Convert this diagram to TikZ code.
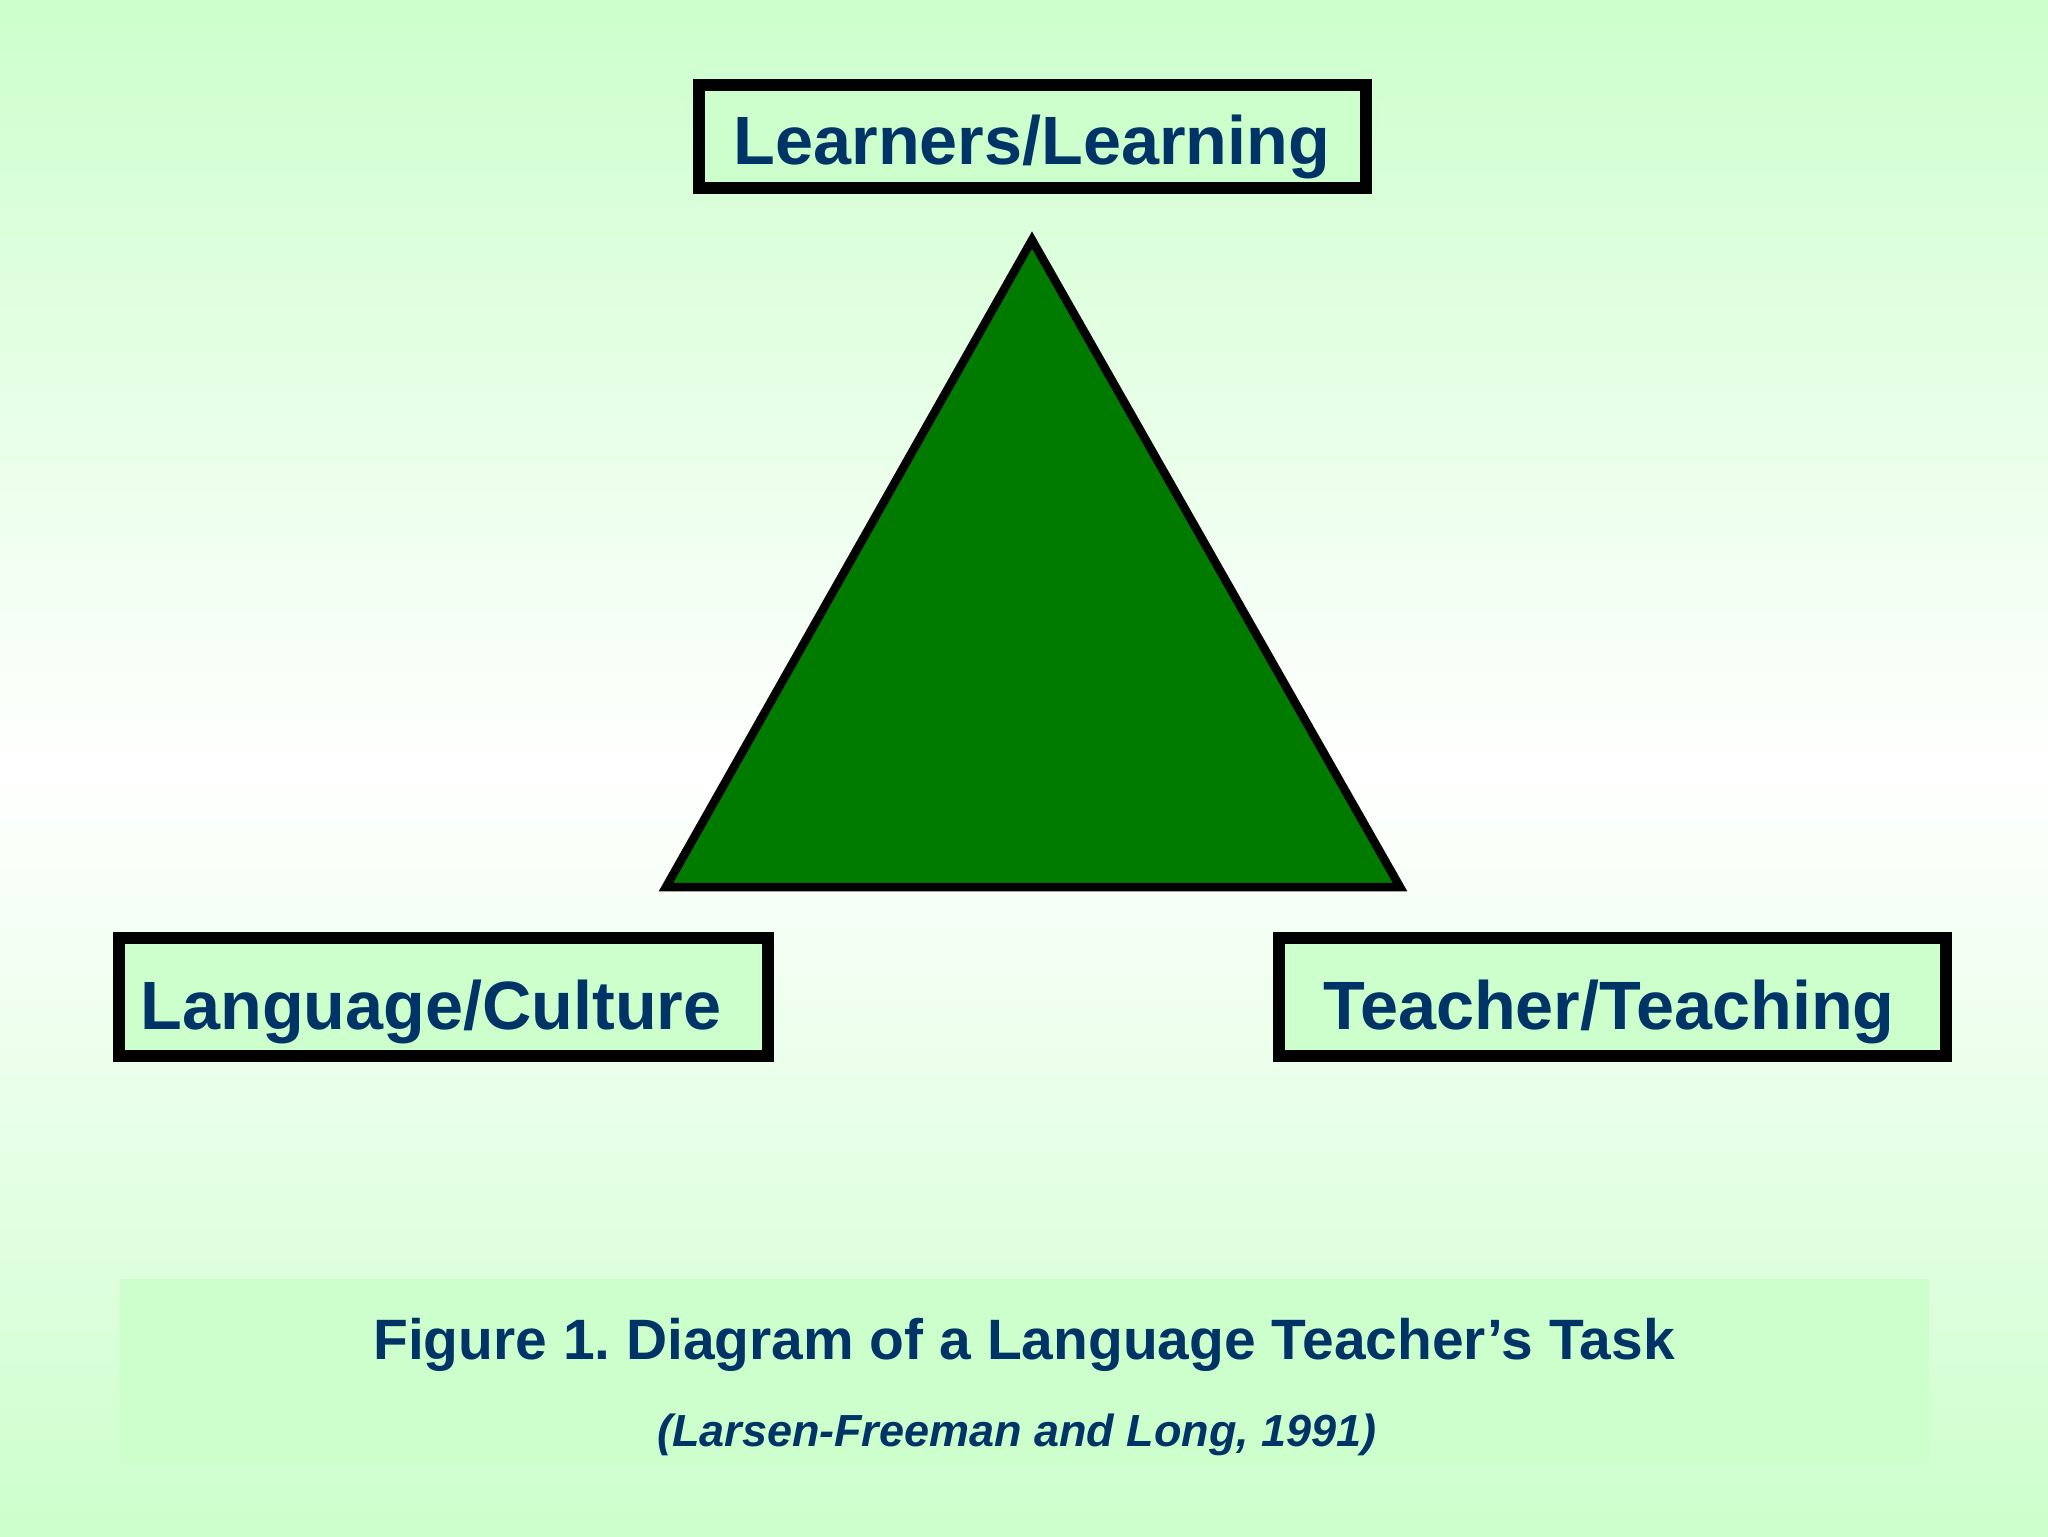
\documentclass[tikz,border=0pt]{standalone}
\usepackage{fontspec}
\setmainfont{Liberation Sans}
\frenchspacing
\definecolor{bgg}{RGB}{204,255,204}
\definecolor{boxfill}{RGB}{204,255,204}
\definecolor{navy}{RGB}{0,51,102}
\definecolor{trigreen}{RGB}{0,123,0}
\tikzset{
  labelbox/.style={draw=black, fill=boxfill, line width=1.2mm, inner sep=0pt, rectangle},
  boxtext/.style={text=navy, font=\fontsize{19.45}{23}\selectfont\bfseries, inner sep=0pt, anchor=base},
  captext/.style={text=navy, font=\fontsize{16.2}{19}\selectfont\bfseries, inner sep=0pt, anchor=base},
  subtext/.style={text=navy, font=\fontsize{12.8}{15}\selectfont\bfseries\itshape, inner sep=0pt, anchor=base},
  tri/.style={draw=black, fill=trigreen, line width=0.85mm, line join=miter}
}
\begin{document}
\begin{tikzpicture}[x=0.1mm,y=-0.1mm]
\useasboundingbox (0,0) rectangle (2048,1536);
% background gradient
\shade[top color=bgg, bottom color=white] (0,0) rectangle (2048,770);
\shade[top color=white, bottom color=bgg] (0,769) rectangle (2048,1536);
% caption panel
\fill[boxfill] (120,1279) rectangle (1929,1463);
% triangle
\coordinate (apex) at (1032,240);
\coordinate (bl) at (666,887);
\coordinate (br) at (1400,887);
\draw[tri] (apex) -- (br) -- (bl) -- cycle;
% boxes
\node[labelbox, minimum width=66.7mm, minimum height=10.3mm] (learn) at (1032.5,136.5) {};
\node[labelbox, minimum width=64.9mm, minimum height=11.8mm] (lang) at (443,997) {};
\node[labelbox, minimum width=66.7mm, minimum height=11.8mm] (teach) at (1612.5,997) {};
% box labels
\node[boxtext] (learnt) at (1032,164) {Learners/Learning};
\node[boxtext] (langt) at (431,1029) {Language/Culture};
\node[boxtext] (teacht) at (1609,1029) {Teacher/Teaching};
% caption
\node[captext] (cap1) at (1024,1359) {Figure 1. Diagram of a Language Teacher’s Task};
\node[subtext] (cap2) at (1017,1446) {(Larsen-Freeman and Long, 1991)};
\end{tikzpicture}
\end{document}
